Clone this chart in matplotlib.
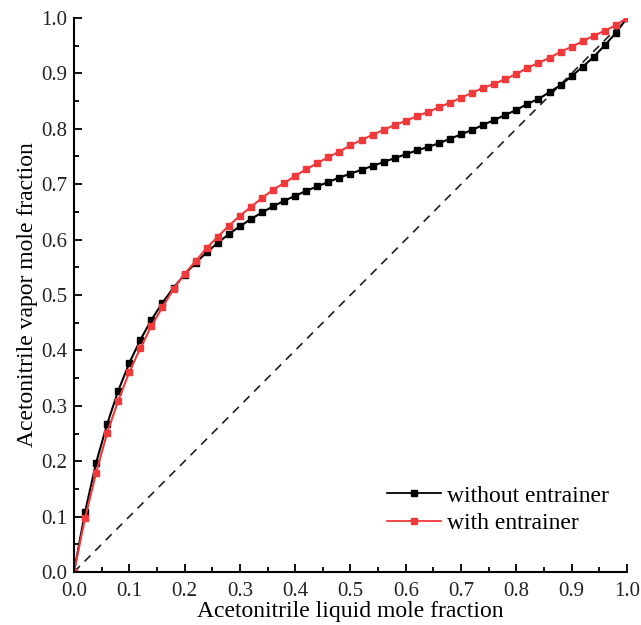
import matplotlib
matplotlib.use("Agg")
import matplotlib.pyplot as plt
import numpy as np

plt.rcParams['font.family'] = ['Liberation Serif', 'DejaVu Serif']
plt.rcParams['mathtext.fontset'] = 'stix'

# liquid mole fraction of acetonitrile (0 .. 1, step 0.02)
x_liq = [0.00, 0.02, 0.04, 0.06, 0.08, 0.10, 0.12, 0.14, 0.16, 0.18,
         0.20, 0.22, 0.24, 0.26, 0.28, 0.30, 0.32, 0.34, 0.36, 0.38,
         0.40, 0.42, 0.44, 0.46, 0.48, 0.50, 0.52, 0.54, 0.56, 0.58,
         0.60, 0.62, 0.64, 0.66, 0.68, 0.70, 0.72, 0.74, 0.76, 0.78,
         0.80, 0.82, 0.84, 0.86, 0.88, 0.90, 0.92, 0.94, 0.96, 0.98, 1.00]

y_without = [0.000, 0.108, 0.197, 0.267, 0.327, 0.377, 0.419, 0.455, 0.486, 0.513,
             0.537, 0.558, 0.577, 0.594, 0.610, 0.624, 0.637, 0.649, 0.660, 0.670,
             0.679, 0.688, 0.696, 0.704, 0.712, 0.719, 0.726, 0.733, 0.740, 0.747,
             0.754, 0.761, 0.767, 0.774, 0.782, 0.790, 0.798, 0.807, 0.816, 0.825,
             0.834, 0.845, 0.854, 0.866, 0.879, 0.895, 0.912, 0.930, 0.951, 0.973, 1.000]

y_with = [0.000, 0.097, 0.179, 0.251, 0.309, 0.361, 0.404, 0.444, 0.478, 0.511,
          0.538, 0.561, 0.585, 0.605, 0.625, 0.643, 0.659, 0.675, 0.690, 0.702,
          0.715, 0.727, 0.738, 0.749, 0.759, 0.770, 0.780, 0.789, 0.798, 0.807,
          0.814, 0.823, 0.830, 0.839, 0.847, 0.856, 0.865, 0.874, 0.881, 0.890,
          0.899, 0.910, 0.919, 0.928, 0.939, 0.948, 0.958, 0.968, 0.977, 0.987, 1.000]

diag = [0.0, 1.0]

fig = plt.figure(figsize=(6.41, 6.25), dpi=100)
ax = fig.add_axes([0.1154, 0.0848, 0.8627, 0.8864])

ax.plot(diag, diag, color='#202020', lw=1.2, ls=(0, (5, 4)))
ax.plot(x_liq, y_without, color='black', lw=1.5, marker='s', ms=5,
        label='without entrainer')
ax.plot(x_liq, y_with, color='#f0393b', lw=1.5, marker='s', ms=5,
        label='with entrainer')

ax.set_xlim(0, 1)
ax.set_ylim(0, 1)
ax.set_xticks(np.arange(0, 1.01, 0.1))
ax.set_yticks(np.arange(0, 1.01, 0.1))
ax.set_xticks(np.arange(0.05, 1.0, 0.1), minor=True)
ax.set_yticks(np.arange(0.05, 1.0, 0.1), minor=True)
ax.xaxis.set_major_formatter(plt.FormatStrFormatter('%.1f'))
ax.yaxis.set_major_formatter(plt.FormatStrFormatter('%.1f'))
ax.tick_params(which='both', direction='in', labelsize=15, width=1.3,
               labelcolor='#222222')
ax.tick_params(which='major', length=6)
ax.tick_params(which='minor', length=3.5)
ax.tick_params(axis='x', which='major', pad=7)
ax.tick_params(axis='y', which='major', pad=5)
ax.spines['top'].set_visible(False)
ax.spines['right'].set_visible(False)
ax.spines['left'].set_linewidth(1.5)
ax.spines['bottom'].set_linewidth(1.5)

ax.set_xlabel('Acetonitrile liquid mole fraction', fontsize=17, labelpad=0)
ax.set_ylabel('Acetonitrile vapor mole fraction', fontsize=17, labelpad=2)

leg = ax.legend(loc='upper left', bbox_to_anchor=(0.566, 0.157), frameon=False,
                fontsize=17, numpoints=1, handlelength=2.3, handletextpad=0.25,
                labelspacing=0.25, borderpad=0, borderaxespad=0)
for h in leg.legend_handles:
    h.set_markersize(4)
    h.set_linewidth(1.3)

fig.savefig('out.png', dpi=100)
